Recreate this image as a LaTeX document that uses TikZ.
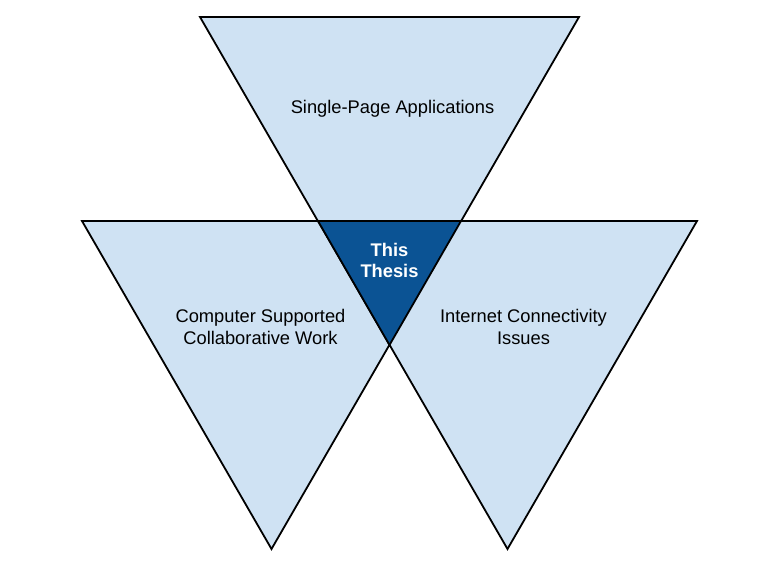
\documentclass[tikz,border=0pt]{standalone}
\usepackage{fontspec}
\setmainfont{Liberation Sans}
\definecolor{lightblue}{HTML}{CFE2F3}
\definecolor{darkblue}{HTML}{0B5394}
\begin{document}
\begin{tikzpicture}[x=1pt,y=-1pt,
  tri/.style={fill=lightblue,draw=black,line width=1.8pt,line join=miter},
  core/.style={fill=darkblue,draw=black,line width=1.8pt},
  lbl/.style={font=\fontsize{18.3}{22}\selectfont,align=center,text=black},
  corelbl/.style={font=\fontsize{18.3}{21}\selectfont\bfseries,align=center,text=white}]
\useasboundingbox (0,0) rectangle (765,567);
% three overlapping inverted triangles
\coordinate (ta) at (200,17);  \coordinate (tb) at (579,17);  \coordinate (tc) at (389.5,345);
\coordinate (la) at (82,221);  \coordinate (lb) at (461,221); \coordinate (lc) at (271.5,549);
\coordinate (ra) at (318,221); \coordinate (rb) at (697,221); \coordinate (rc) at (507.5,549);
\draw[tri] (ta) -- (tb) -- (tc) -- cycle;
\draw[tri] (la) -- (lb) -- (lc) -- cycle;
\draw[tri] (ra) -- (rb) -- (rc) -- cycle;
% common region
\draw[core] (ra) -- (lb) -- (tc) -- cycle;
\node[lbl] (spa) at (392.5,108.5) {Single-Page Applications};
\node[lbl] (cscw) at (260.5,327) {Computer Supported\\Collaborative Work};
\node[lbl] (ici) at (523.5,327) {Internet Connectivity\\Issues};
\node[corelbl] (thesis) at (389.5,260) {This\\Thesis};
\end{tikzpicture}
\end{document}
